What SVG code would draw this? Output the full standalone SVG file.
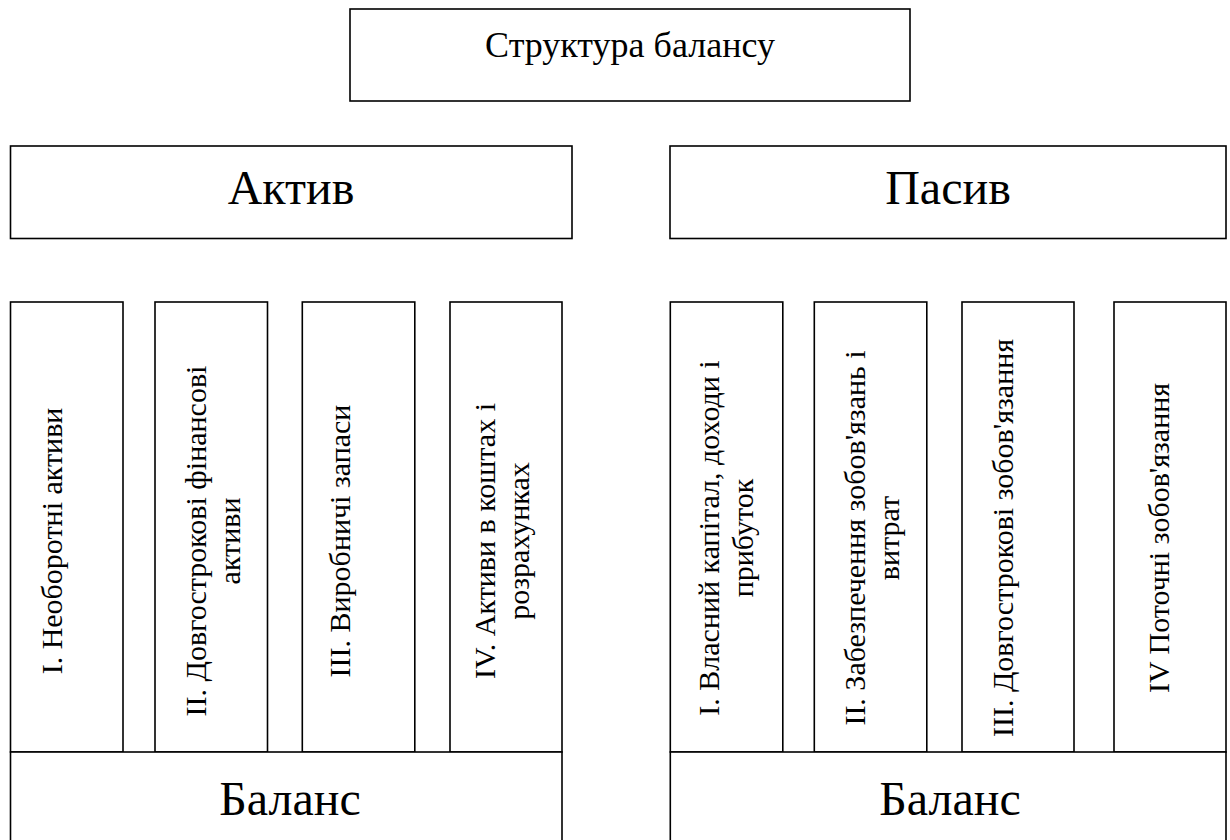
<svg xmlns="http://www.w3.org/2000/svg" width="1230" height="840" viewBox="0 0 1230 840">
<style>
.box{fill:#fff;stroke:#000;stroke-width:1.6}
text{font-family:"Liberation Serif","Times New Roman",serif;fill:#000}
.t{font-size:36px;text-anchor:middle}
.h{font-size:48px;text-anchor:middle}
.v{font-size:30px;text-anchor:middle}
</style>
<rect width="1230" height="840" fill="#fff"/>
<g id="title"><rect class="box" x="350" y="9" width="560" height="92"/><text class="t" x="630" y="57">Структура балансу</text></g>
<g id="aktyv"><rect class="box" x="10.5" y="146" width="561.5" height="92.5"/><text class="h" x="291" y="204">Актив</text></g>
<g id="pasyv"><rect class="box" x="670" y="146" width="556" height="92.5"/><text class="h" x="948" y="204">Пасив</text></g>
<g id="a1"><rect class="box" x="10.5" y="302" width="112.5" height="450"/><text class="v" transform="translate(62,541) rotate(-90)">I. Необоротні активи</text></g>
<g id="a2"><rect class="box" x="155" y="302" width="112.5" height="450"/><text class="v" transform="translate(206,541) rotate(-90)">II. Довгострокові фінансові</text><text class="v" transform="translate(240,541) rotate(-90)">активи</text></g>
<g id="a3"><rect class="box" x="302.3" y="302" width="112.5" height="450"/><text class="v" transform="translate(350,541) rotate(-90)">III. Виробничі запаси</text></g>
<g id="a4"><rect class="box" x="450" y="302" width="112" height="450"/><text class="v" transform="translate(495,541) rotate(-90)">IV. Активи в коштах і</text><text class="v" transform="translate(529,541) rotate(-90)">розрахунках</text></g>
<g id="p1"><rect class="box" x="670.3" y="302" width="112.5" height="450"/><text class="v" transform="translate(719,538) rotate(-90)">I. Власний капітал, доходи і</text><text class="v" transform="translate(753,538) rotate(-90)">прибуток</text></g>
<g id="p2"><rect class="box" x="814.3" y="302" width="112.5" height="450"/><text class="v" transform="translate(865,538) rotate(-90)">II. Забезпечення зобов'язань і</text><text class="v" transform="translate(899,538) rotate(-90)">витрат</text></g>
<g id="p3"><rect class="box" x="962" y="302" width="112" height="450"/><text class="v" transform="translate(1013,538) rotate(-90)">III. Довгострокові зобов'язання</text></g>
<g id="p4"><rect class="box" x="1114" y="302" width="112" height="450"/><text class="v" transform="translate(1169,538) rotate(-90)">IV Поточні зобов'язання</text></g>
<g id="b1"><rect class="box" x="10.5" y="752" width="551.5" height="100"/><text class="h" x="290" y="815">Баланс</text></g>
<g id="b2"><rect class="box" x="670.3" y="752" width="555.7" height="100"/><text class="h" x="950" y="815">Баланс</text></g>
<g id="connectors"></g>
</svg>
